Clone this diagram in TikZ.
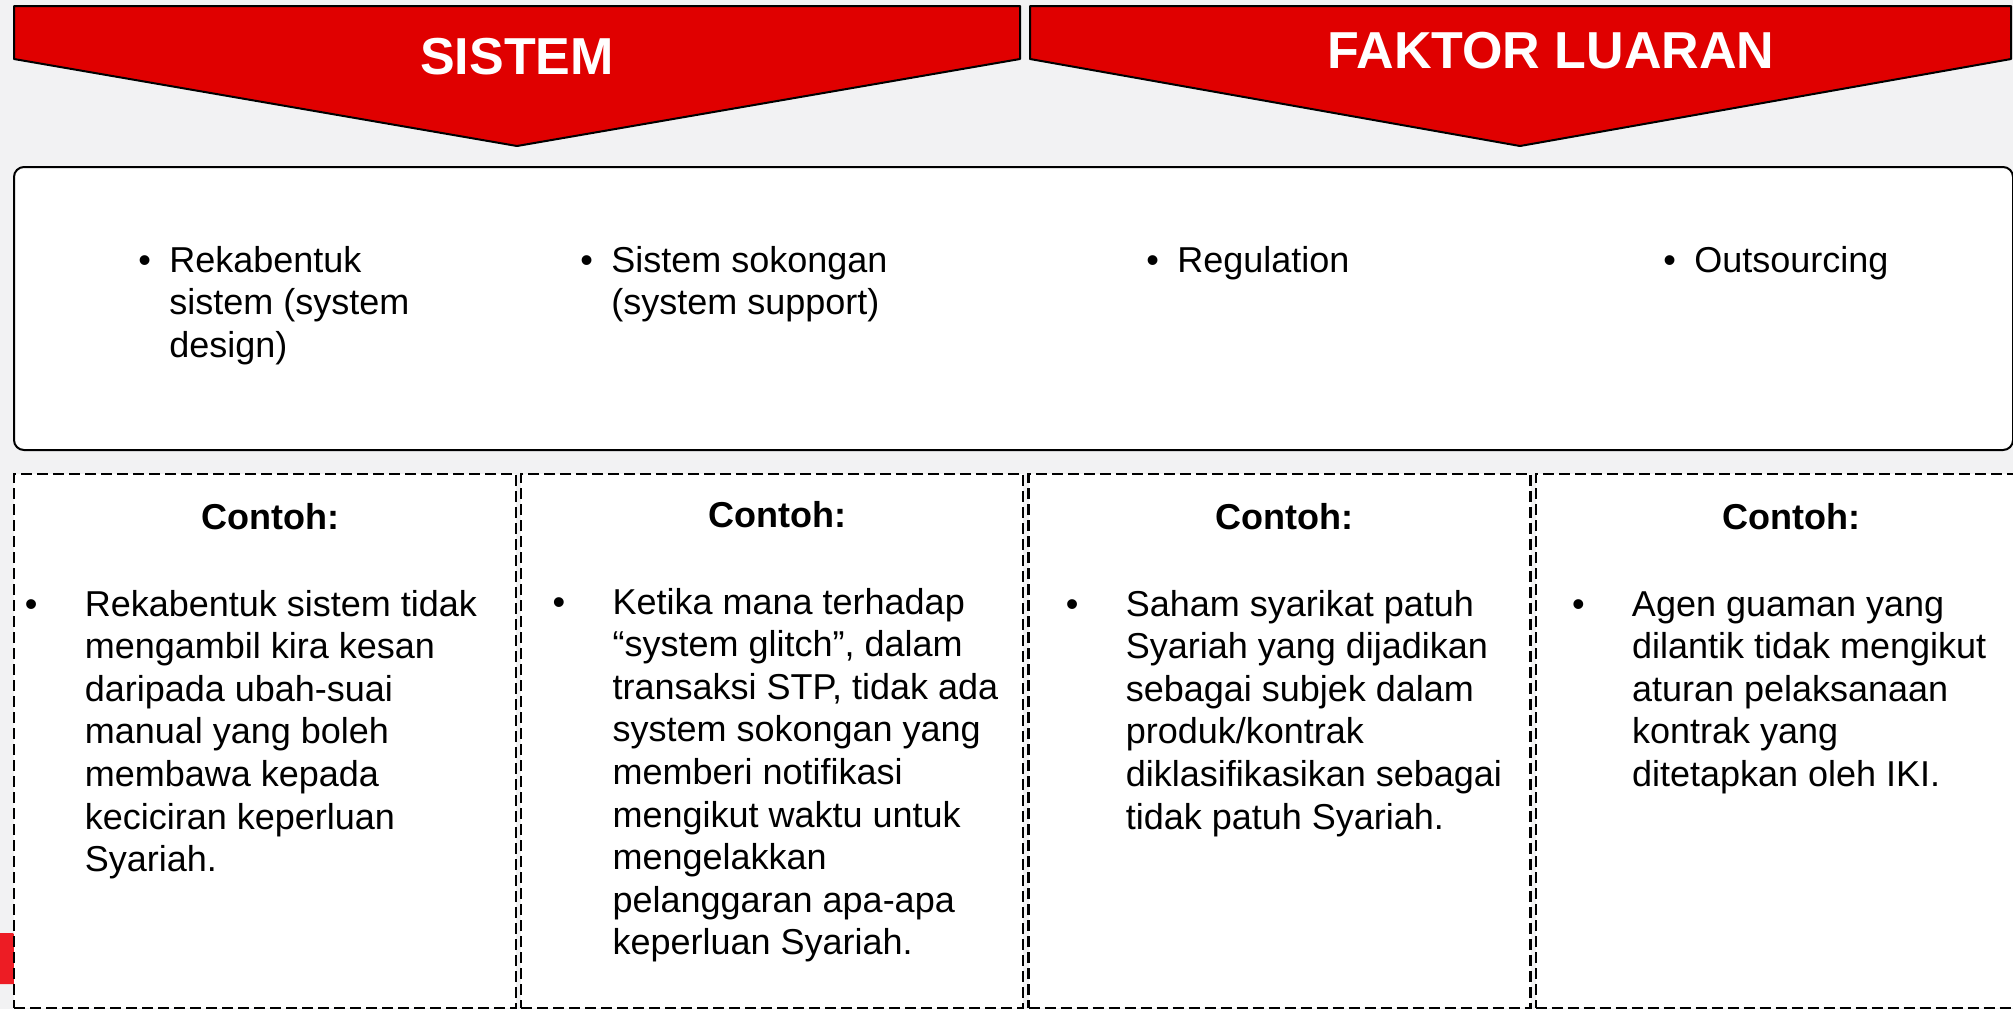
\documentclass[tikz,border=0pt]{standalone}
\usepackage{fontspec}
\setmainfont{Liberation Sans}
\usepackage{tikz}
\usetikzlibrary{positioning}
\definecolor{bannerred}{RGB}{224,0,0}
\definecolor{tabred}{RGB}{237,28,36}
\definecolor{slidebg}{RGB}{242,242,243}
\newcommand{\itemlist}[2]{\begin{tabular}[t]{@{}p{#1}@{}l@{}}#2\end{tabular}}

\begin{document}
\begin{tikzpicture}[x=0.5pt,y=-0.5pt,node distance=1.5pt]
\tikzstyle{banner}=[fill=bannerred, draw=black, line width=1pt, line join=round]
\tikzstyle{title}=[text=white, font=\fontsize{26}{30}\selectfont\bfseries, anchor=base, inner sep=0pt]
\tikzstyle{point}=[anchor=base west, inner sep=0pt, font=\fontsize{18}{21.3}\selectfont]
\tikzstyle{example}=[rectangle, draw=black, fill=white, line width=1.1pt, dash pattern=on 5.5pt off 2.5pt, minimum width=251pt, minimum height=267pt, inner sep=0pt]
\tikzstyle{contoh}=[anchor=base, inner sep=0pt, font=\fontsize{18}{21.3}\selectfont\bfseries]
\useasboundingbox (0,0) rectangle (2013,1009);
\clip (0,0) rectangle (2013,1009);
\fill[slidebg] (0,0) rectangle (2013,1009);

  \draw[banner] (14,6) -- (1020,6) -- (1020,59) -- (517,146) -- (14,59) -- cycle;
  \draw[banner] (1030,6) -- (2011,6) -- (2011,59) -- (1520,146) -- (1030,59) -- cycle;
  \node[title] (sistem) at (517,74.5) {SISTEM};
  \node[title] (luaran) at (1551,68.5) {FAKTOR LUARAN};

  \node[rectangle, draw=black, fill=white, line width=1pt, rounded corners=5pt, anchor=north west, minimum width=999.5pt, minimum height=141.5pt] (factors) at (13,166) {};
  \node[point] (design) at (138,272) {\itemlist{15.5pt}{\textbullet & Rekabentuk\\ & sistem (system\\ & design)}};
  \node[point] (support) at (580,272) {\itemlist{15.5pt}{\textbullet & Sistem sokongan\\ & (system support)}};
  \node[point] (regulation) at (1146,272) {\itemlist{15.5pt}{\textbullet & Regulation}};
  \node[point] (outsourcing) at (1663,272) {\itemlist{15.5pt}{\textbullet & Outsourcing}};

\fill[tabred] (0,933) -- (10,933) .. controls (14,933) .. (14,937) -- (14,984) -- (0,984) -- cycle;

  \node[example, anchor=north west] (ex1) at (13,473) {};
  \node[example] (ex2) [right=of ex1] {};
  \node[example] (ex3) [right=of ex2] {};
  \node[example] (ex4) [right=of ex3] {};

  \node[contoh] (c1) at ([xshift=2.5pt,yshift=-28pt]ex1.north) {Contoh:};
  \node[contoh] (c2) at ([xshift=2.5pt,yshift=-27pt]ex2.north) {Contoh:};
  \node[contoh] (c3) at ([xshift=2.5pt,yshift=-28pt]ex3.north) {Contoh:};
  \node[contoh] (c4) at ([xshift=2.5pt,yshift=-28pt]ex4.north) {Contoh:};

  \node[point] (t1) at ([xshift=5.7pt,yshift=-71.5pt]ex1.north west) {\itemlist{30pt}{\textbullet & Rekabentuk sistem tidak\\ & mengambil kira kesan\\ & daripada ubah-suai\\ & manual yang boleh\\ & membawa kepada\\ & keciciran keperluan\\ & Syariah.}};
  \node[point] (t2) at ([xshift=16pt,yshift=-70.5pt]ex2.north west) {\itemlist{30pt}{\textbullet & Ketika mana terhadap\\ & “system glitch”, dalam\\ & transaksi STP, tidak ada\\ & system sokongan yang\\ & memberi notifikasi\\ & mengikut waktu untuk\\ & mengelakkan\\ & pelanggaran apa-apa\\ & keperluan Syariah.}};
  \node[point] (t3) at ([xshift=19pt,yshift=-71.5pt]ex3.north west) {\itemlist{30pt}{\textbullet & Saham syarikat patuh\\ & Syariah yang dijadikan\\ & sebagai subjek dalam\\ & produk/kontrak\\ & diklasifikasikan sebagai\\ & tidak patuh Syariah.}};
  \node[point] (t4) at ([xshift=18.5pt,yshift=-71.5pt]ex4.north west) {\itemlist{30pt}{\textbullet & Agen guaman yang\\ & dilantik tidak mengikut\\ & aturan pelaksanaan\\ & kontrak yang\\ & ditetapkan oleh IKI.}};
\end{tikzpicture}
\end{document}
